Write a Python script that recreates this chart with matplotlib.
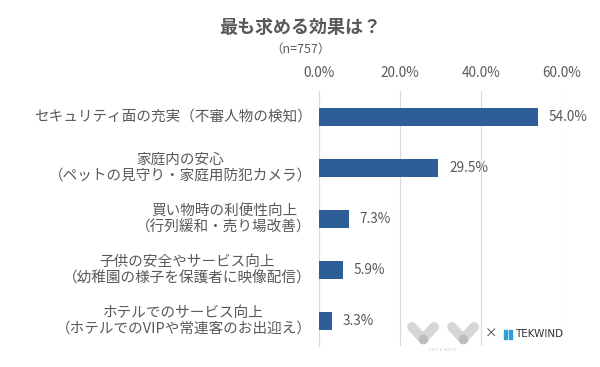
import matplotlib.pyplot as plt
from matplotlib.lines import Line2D
from matplotlib.patches import Rectangle

plt.rcParams['font.family'] = ['Noto Sans CJK JP', 'DejaVu Sans']

# データ
labels = [
    'セキュリティ面の充実（不審人物の検知）',
    '家庭内の安心\n（ペットの見守り・家庭用防犯カメラ）',
    '買い物時の利便性向上\n（行列緩和・売り場改善）',
    '子供の安全やサービス向上\n（幼稚園の様子を保護者に映像配信）',
    'ホテルでのサービス向上\n（ホテルでのVIPや常連客のお出迎え）',
]
values = [54.0, 29.5, 7.3, 5.9, 3.3]
ticks = [0, 20, 40, 60]

bar_color = '#2E5E98'
text_color = '#595959'

fig = plt.figure(figsize=(6, 3.67), dpi=100)
ax = fig.add_axes([0.5317, 0.0559, 0.405, 0.6948])

y = list(range(len(values)))
ax.barh(y, values, height=0.355, color=bar_color, zorder=3)
for yi, v in zip(y, values):
    ax.text(v + 2.6, yi, f'{v:.1f}%', va='center', ha='left',
            fontsize=9.8, color=text_color)

ax.set_ylim(len(values) - 0.5, -0.5)
ax.set_xlim(0, 60)
ax.xaxis.tick_top()
ax.set_xticks(ticks)
ax.set_xticklabels([f'{t:.1f}%' for t in ticks], fontsize=9.8, color=text_color)
ax.tick_params(axis='x', length=0, pad=8.5)
ax.set_yticks(y)
ax.set_yticklabels([])
ax.tick_params(axis='y', length=0)
ax.grid(axis='x', color='#d9d9d9', lw=0.8, zorder=0)
for s in ['top', 'right', 'bottom']:
    ax.spines[s].set_visible(False)
ax.spines['left'].set_color('#d9d9d9')
ax.spines['left'].set_linewidth(0.8)

# 項目ラベル（複数行は中央揃え）
for yi, lab in zip(y, labels):
    ax.text(-0.03, yi, lab, transform=ax.get_yaxis_transform(),
            ha='right', va='center', multialignment='center',
            fontsize=10.5, color=text_color, linespacing=1.2)

fig.text(0.5, 0.925, '最も求める効果は？', ha='center', va='center',
         fontsize=13, fontweight='bold', color=text_color)
fig.text(0.5, 0.866, '（n=757）', ha='center', va='center',
         fontsize=9, color=text_color)

# ロゴ（簡易）
W, H = 600, 367
def px(x, yy):
    return x / W, 1 - yy / H

for x0 in (412, 452):
    xs, ys = zip(px(x0, 327), px(x0 + 11, 339), px(x0 + 22, 327))
    fig.add_artist(Line2D(xs, ys, lw=7, color='#d6d6d6',
                          solid_capstyle='round', solid_joinstyle='round'))
    cx, cy = px(x0 + 11, 339)
    fig.add_artist(Line2D([cx], [cy], marker='o', ms=6, color='#bdbdbd', lw=0))
fig.text(*px(442, 350), 'V O I C E   N O T E', fontsize=2.5, color='#c0c0c0',
         ha='center', va='center')
fig.text(*px(491, 334), '×', fontsize=9, color='#444444', ha='center', va='center')
for bx in (504, 509):
    fig.add_artist(Rectangle(px(bx, 339), 3 / W, 9 / H, color='#2a9fd8',
                             transform=fig.transFigure))
fig.text(*px(515, 334), 'TEKWIND', fontsize=7.5, color='#333333',
         ha='left', va='center', family=['DejaVu Sans'])

fig.savefig('out.png', dpi=100)
